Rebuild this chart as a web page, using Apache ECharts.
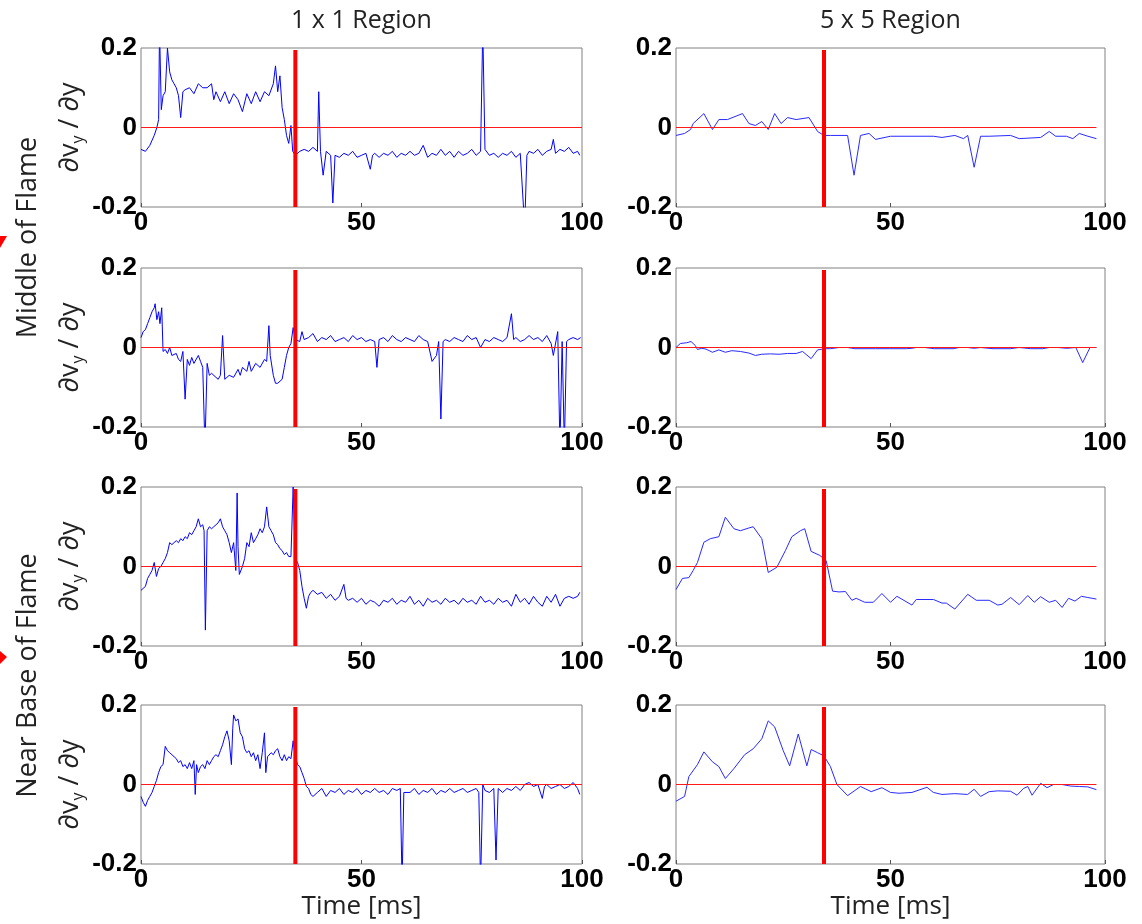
<!DOCTYPE html>
<html><head><meta charset="utf-8">
<script src="https://cdn.jsdelivr.net/npm/echarts@6/dist/echarts.min.js"></script>
<style>html,body{margin:0;padding:0;background:#fff}#c{width:1142px;height:924px}</style>
</head><body><div id="c"></div>
<script>
// ---- text & ticks ----
const COLUMN_TITLES = ['1 x 1 Region', '5 x 5 Region'];
const ROW_LABELS = ['Middle of Flame', 'Near Base of Flame'];
const X_NAME = 'Time [ms]';
const X_TICKS = [0, 50, 100];
const Y_TICKS = [-0.2, 0, 0.2];
// ---- reference lines ----
const ONSET_1x1 = 35, ONSET_5x5 = 34.5, ONSET_TOP = 0.195;
const ZERO_END_1x1 = 100, ZERO_END_5x5 = 98;

// ---- series: [time ms, dvy/dy] ----
const mid1_1x1 = [[0,-0.055],[1,-0.06],[2,-0.045],[3,-0.02],[3.6,0],[4,0.02],[4.2,0.25],[4.6,0.045],[5,0.08],[5.5,0.09],[6,0.2],[6.5,0.14],[7,0.12],[7.5,0.11],[8,0.1],[8.5,0.08],[9,0.025],[9.5,0.09],[10,0.095],[11,0.1],[12,0.085],[13,0.11],[14,0.1],[15,0.1],[16,0.11],[16.5,0.07],[17,0.09],[18,0.065],[19,0.09],[20,0.06],[21,0.085],[22,0.07],[23,0.04],[24,0.085],[25,0.06],[26,0.09],[27,0.065],[28,0.09],[29,0.08],[30,0.11],[30.5,0.155],[31,0.09],[31.5,0.13],[32,0.05],[32.5,0.02],[33,-0.02],[33.5,-0.04],[34,0.005],[34.4,-0.06],[35,-0.07],[36,-0.06],[37,-0.055],[38,-0.06],[39,-0.05],[40,-0.06],[40.3,0.09],[40.7,-0.06],[41.3,-0.12],[42,-0.06],[43,-0.07],[43.5,-0.19],[44,-0.07],[45,-0.075],[46,-0.065],[47,-0.07],[48,-0.06],[49,-0.075],[50,-0.07],[51,-0.065],[52,-0.105],[52.5,-0.07],[53,-0.065],[54,-0.075],[55,-0.065],[56,-0.07],[57,-0.06],[58,-0.075],[59,-0.065],[60,-0.07],[61,-0.06],[62,-0.07],[63,-0.065],[64,-0.045],[65,-0.075],[66,-0.065],[67,-0.07],[68,-0.055],[69,-0.07],[70,-0.06],[71,-0.075],[72,-0.06],[73,-0.07],[74,-0.065],[75,-0.055],[76,-0.07],[77,-0.06],[77.5,0.25],[78,-0.055],[79,-0.07],[80,-0.065],[81,-0.075],[82,-0.065],[83,-0.07],[84,-0.06],[85,-0.075],[86,-0.065],[87,-0.25],[87.5,-0.07],[88,-0.06],[89,-0.065],[90,-0.055],[91,-0.07],[92,-0.06],[93,-0.055],[93.5,-0.03],[94,-0.065],[95,-0.055],[96,-0.06],[97,-0.05],[98,-0.065],[99,-0.06],[99.5,-0.07]];
const mid1_5x5 = [[0,-0.02],[2,-0.015],[3.4,-0.005],[4,0.01],[6.5,0.035],[8.5,-0.005],[10,0.02],[12,0.02],[15.5,0.035],[17,0.01],[18.5,0.005],[20,0.015],[21.5,-0.005],[23,0.035],[24.5,0.01],[26,0.025],[28,0.02],[31,0.025],[33,-0.01],[34.5,-0.02],[36,-0.02],[40,-0.02],[41.5,-0.12],[43,-0.02],[45,-0.015],[46.5,-0.03],[50,-0.022],[60,-0.022],[62,-0.025],[65,-0.02],[67,-0.028],[68,-0.02],[69.5,-0.1],[71,-0.022],[73,-0.022],[78,-0.02],[80,-0.028],[85,-0.025],[87,-0.01],[88.5,-0.022],[91,-0.022],[92.5,-0.028],[94,-0.015],[96,-0.022],[98,-0.028]];
const mid2_1x1 = [[0,0.025],[0.5,0.04],[1,0.045],[1.5,0.06],[2,0.075],[2.5,0.09],[3,0.1],[3.2,0.11],[3.6,0.07],[4,0.09],[4.3,0.06],[4.7,0.1],[5,-0.01],[5.5,-0.005],[6,-0.015],[6.5,0],[7,-0.02],[8,-0.015],[8.5,-0.03],[9,-0.035],[9.5,-0.01],[10,-0.13],[10.5,-0.03],[11,-0.045],[11.5,-0.025],[12,-0.04],[13,-0.02],[13.5,-0.035],[14,-0.05],[14.5,-0.25],[15,-0.04],[15.5,-0.07],[16,-0.065],[17,-0.075],[17.5,-0.08],[18,-0.07],[18.5,0.03],[19,-0.08],[20,-0.07],[21,-0.075],[22,-0.055],[22.5,-0.07],[23,-0.05],[24,-0.06],[24.5,-0.035],[25,-0.06],[26,-0.04],[27,-0.05],[28,-0.03],[28.5,-0.035],[29,0.055],[29.3,-0.02],[30,-0.07],[30.5,-0.09],[31,-0.09],[32,-0.08],[32.5,-0.05],[33,-0.02],[33.5,0],[34,0.01],[34.5,0.05],[35,0.02],[36,0.015],[36.5,0.04],[37,0.02],[38,0.025],[39,0.035],[40,0.015],[41,0.025],[42,0.02],[43,0.03],[44,0.015],[45,0.02],[46,0.025],[47,0.015],[48,0.03],[49,0.02],[50,0.025],[51,0.015],[52,0.02],[53,0.015],[53.5,-0.05],[54,0.02],[55,0.025],[56,0.015],[57,0.03],[58,0.02],[59,0.015],[60,0.025],[61,0.02],[62,0.015],[63,0.03],[64,0.02],[65,0.015],[66,-0.035],[67,-0.02],[67.5,0.015],[68,-0.18],[68.5,0.015],[69,0.02],[70,0.015],[71,0.025],[72,0.02],[73,0.015],[74,0.03],[75,0.02],[76,0.025],[77,0],[78,0.02],[79,0.015],[80,0.025],[81,0.02],[82,0.015],[83,0.025],[84,0.085],[84.5,0.02],[85,0.025],[86,0.015],[87,0.02],[88,0.03],[89,0.02],[90,0.025],[91,0.015],[92,0.03],[93,0.01],[93.5,-0.02],[94.5,0.04],[95,-0.25],[95.5,0.015],[96,-0.25],[96.5,0.015],[97,0.02],[98,0.025],[99,0.02],[99.7,0.025]];
const mid2_5x5 = [[0,0],[1,0.01],[2.5,0.012],[3.5,0.015],[4.5,0.005],[5,-0.005],[6,-0.002],[7,-0.004],[8.5,-0.012],[10,-0.006],[11.5,-0.012],[13,-0.008],[15,-0.01],[17,-0.014],[18.5,-0.02],[20,-0.017],[22,-0.016],[24,-0.017],[26,-0.015],[28,-0.015],[29.5,-0.01],[31.5,-0.028],[33,-0.006],[34.8,-0.003],[36,-0.003],[38,0],[40,0],[41.7,-0.003],[45.7,-0.003],[46.5,-0.003],[49.7,-0.003],[50.1,-0.003],[53.7,-0.003],[55,-0.002],[56,0],[58,0],[60.2,-0.003],[64.6,-0.003],[66,0],[68,0],[69.5,-0.002],[71,0],[73.9,-0.003],[77.9,-0.003],[80,0],[82.7,-0.003],[85.5,-0.003],[87,0],[89,0],[91.1,-0.002],[93.2,0],[94.8,-0.038],[96.5,0],[98,0]];
const base1_1x1 = [[0,-0.06],[0.5,-0.055],[1,-0.05],[1.5,-0.03],[2,-0.02],[2.5,-0.01],[3,0.01],[3.5,-0.025],[4,-0.005],[4.5,0],[5,0.01],[5.5,0.02],[6,0.035],[6.5,0.06],[7,0.055],[7.5,0.06],[8,0.065],[8.5,0.06],[9,0.07],[9.5,0.065],[10,0.075],[10.5,0.07],[11,0.085],[11.5,0.08],[12,0.09],[12.5,0.1],[13,0.12],[13.5,0.1],[14,0.105],[14.3,0.09],[14.6,-0.16],[15,0.09],[15.5,0.1],[16,0.095],[16.5,0.1],[17,0.105],[17.5,0.11],[18,0.12],[18.5,0.1],[19,0.09],[19.5,0.08],[20,0.06],[20.5,0.035],[21,0.06],[21.5,-0.01],[21.8,0.185],[22,0.05],[22.3,-0.02],[22.7,-0.015],[23,0],[23.5,0.02],[24,0.06],[24.5,0.05],[25,0.085],[25.5,0.06],[26,0.07],[26.5,0.08],[27,0.095],[27.5,0.085],[28,0.1],[28.5,0.15],[29,0.1],[29.5,0.09],[30,0.08],[30.5,0.06],[31,0.055],[31.5,0.045],[32,0.04],[32.5,0.03],[33,0.035],[33.5,0.025],[34,0.025],[34.5,0.2],[35,0.02],[35.5,0.01],[36,-0.01],[36.5,-0.05],[37,-0.08],[37.5,-0.105],[38,-0.075],[38.5,-0.065],[39,-0.06],[40,-0.07],[41,-0.065],[42,-0.08],[43,-0.07],[44,-0.085],[45,-0.075],[46,-0.045],[46.5,-0.08],[47,-0.085],[48,-0.08],[49,-0.09],[50,-0.08],[51,-0.095],[52,-0.085],[53,-0.09],[54,-0.1],[55,-0.085],[56,-0.09],[57,-0.08],[58,-0.095],[59,-0.085],[60,-0.09],[61,-0.075],[62,-0.095],[63,-0.085],[64,-0.1],[65,-0.08],[66,-0.09],[67,-0.085],[68,-0.095],[69,-0.08],[70,-0.09],[71,-0.085],[72,-0.095],[73,-0.08],[74,-0.09],[75,-0.085],[76,-0.095],[77,-0.075],[78,-0.09],[79,-0.085],[80,-0.095],[81,-0.08],[82,-0.09],[83,-0.085],[84,-0.1],[85,-0.07],[86,-0.09],[87,-0.08],[88,-0.095],[89,-0.075],[90,-0.09],[91,-0.1],[92,-0.075],[93,-0.09],[94,-0.07],[95,-0.1],[96,-0.08],[97,-0.075],[98,-0.08],[99,-0.075],[99.5,-0.065]];
const base1_5x5 = [[0,-0.058],[1.5,-0.03],[3,-0.028],[4,-0.01],[5,0.01],[6.5,0.061],[8,0.07],[10,0.075],[11.5,0.124],[13.5,0.095],[15,0.09],[17,0.097],[18,0.1],[20,0.07],[21.5,-0.015],[23.5,-0.002],[25.5,0.04],[27,0.075],[29,0.09],[30,0.095],[31.5,0.038],[33.5,0.028],[35,0.015],[36.5,-0.062],[38,-0.064],[39.5,-0.063],[41,-0.085],[42,-0.08],[44,-0.09],[46,-0.09],[48,-0.068],[50,-0.09],[51.5,-0.075],[55,-0.097],[56,-0.083],[60,-0.083],[62,-0.092],[63,-0.092],[65,-0.107],[68,-0.07],[70,-0.085],[73,-0.085],[75,-0.097],[76,-0.095],[78,-0.078],[80,-0.096],[82,-0.073],[83.5,-0.09],[85,-0.076],[87,-0.09],[88.5,-0.085],[90,-0.103],[91.5,-0.08],[93,-0.087],[94.5,-0.075],[96,-0.078],[98,-0.082]];
const base2_1x1 = [[0,-0.03],[0.5,-0.045],[1,-0.055],[1.5,-0.04],[2,-0.03],[2.5,-0.02],[3,-0.005],[3.5,0.01],[4,0.03],[4.5,0.045],[5,0.05],[5.5,0.096],[6,0.085],[6.5,0.08],[7,0.075],[7.5,0.07],[8,0.065],[8.5,0.055],[9,0.06],[9.5,0.045],[10,0.05],[10.5,0.04],[11,0.055],[11.5,0.04],[12,0.06],[12.3,-0.025],[12.6,0.05],[13,0.03],[13.5,0.045],[14,0.05],[14.5,0.04],[15,0.06],[15.5,0.05],[16,0.06],[16.5,0.07],[17,0.075],[17.5,0.07],[18,0.085],[18.5,0.1],[19,0.12],[19.5,0.135],[20,0.11],[20.5,0.05],[20.8,0.14],[21,0.175],[21.5,0.16],[22,0.165],[22.5,0.13],[23,0.12],[23.5,0.09],[24,0.08],[24.5,0.085],[25,0.07],[25.5,0.08],[26,0.06],[26.5,0.075],[27,0.04],[27.5,0.08],[28,0.13],[28.3,0.03],[28.7,0.07],[29,0.065],[29.5,0.08],[30,0.075],[30.5,0.085],[31,0.09],[31.5,0.07],[32,0.06],[32.5,0.075],[33,0.06],[33.5,0.07],[34,0.065],[34.5,0.11],[35,0.07],[35.5,0.05],[36,0.045],[36.5,0.03],[37,0.015],[37.5,-0.005],[38,-0.01],[38.5,-0.025],[39,-0.03],[40,-0.02],[41,-0.01],[42,-0.03],[43,-0.015],[44,-0.02],[45,-0.01],[46,-0.025],[47,-0.015],[48,-0.02],[49,-0.01],[50,-0.025],[51,-0.015],[52,-0.02],[53,-0.01],[54,-0.02],[55,-0.015],[56,-0.025],[57,-0.01],[58,-0.015],[58.8,-0.01],[59.2,-0.25],[59.6,-0.02],[60,-0.015],[61,-0.02],[62,-0.01],[63,-0.025],[64,-0.015],[65,-0.02],[66,-0.01],[67,-0.025],[68,-0.015],[69,-0.02],[70,-0.01],[71,-0.02],[72,-0.015],[73,-0.01],[74,-0.02],[75,-0.015],[76,-0.01],[76.6,-0.02],[77,-0.25],[77.5,0],[78,-0.015],[79,-0.02],[80,-0.01],[80.5,-0.19],[81,-0.01],[82,-0.02],[83,-0.01],[84,-0.015],[85,-0.005],[86,-0.015],[87,0],[88,0.005],[89,-0.005],[90,0],[91,-0.035],[91.5,-0.005],[92,0],[93,-0.01],[94,-0.005],[95,0],[96,-0.01],[97,-0.005],[98,0.005],[99,-0.01],[99.5,-0.025]];
const base2_5x5 = [[0,-0.042],[2,-0.03],[3,0.02],[5,0.05],[6.5,0.082],[8.5,0.057],[10,0.045],[11.5,0.015],[13.5,0.04],[16,0.075],[18,0.09],[20,0.115],[21.5,0.16],[23,0.145],[25,0.085],[26.5,0.047],[28.5,0.127],[30.5,0.047],[31.5,0.088],[33,0.08],[34.5,0.072],[36,0.045],[37.5,0],[40,-0.028],[43,-0.005],[45.5,-0.018],[48,-0.008],[50,-0.02],[52,-0.022],[55,-0.02],[58.5,-0.007],[60,-0.02],[62,-0.025],[65,-0.023],[68,-0.025],[69.5,-0.012],[71,-0.03],[73,-0.018],[75,-0.016],[78,-0.017],[79.5,-0.027],[81,-0.01],[82,-0.005],[83,-0.027],[85,0.003],[86.5,-0.008],[88,0],[90,0],[92,-0.004],[94,-0.005],[96,-0.006],[98,-0.013]];

const panels = [
  {data: mid1_1x1, row: 0, col: 0}, {data: mid1_5x5, row: 0, col: 1},
  {data: mid2_1x1, row: 1, col: 0}, {data: mid2_5x5, row: 1, col: 1},
  {data: base1_1x1, row: 2, col: 0}, {data: base1_5x5, row: 2, col: 1},
  {data: base2_1x1, row: 3, col: 0}, {data: base2_5x5, row: 3, col: 1}
];

const LEFTS = [141, 676], WIDTHS = [441, 429];
const TOPS = [48, 268, 487, 705], HEIGHT = 159;
const TEXT_FONT = 'Open Sans';
const TICK_FONT = {fontFamily: 'Liberation Sans', fontWeight: 'bold', fontSize: 26, color: '#000'};

const option = {animation: false, backgroundColor: '#fff', grid: [], xAxis: [], yAxis: [], series: [], graphic: []};

panels.forEach((p, i) => {
  option.grid.push({left: LEFTS[p.col], top: TOPS[p.row], width: WIDTHS[p.col], height: HEIGHT,
    show: true, borderColor: '#808080', borderWidth: 1, backgroundColor: 'transparent', containLabel: false});
  option.xAxis.push({gridIndex: i, type: 'value', position: 'bottom',
    min: X_TICKS[0], max: X_TICKS[X_TICKS.length - 1], interval: X_TICKS[1] - X_TICKS[0],
    axisLine: {show: false, onZero: false},
    axisTick: {show: true, inside: true, length: 4, lineStyle: {color: '#555', width: 1}},
    splitLine: {show: false},
    axisLabel: Object.assign({margin: 3, showMinLabel: true, showMaxLabel: true}, TICK_FONT),
    name: p.row === 3 ? X_NAME : '', nameLocation: 'middle', nameGap: 28,
    nameTextStyle: {fontFamily: TEXT_FONT, fontSize: 26, fontWeight: 'normal', color: '#222'}});
  option.yAxis.push({gridIndex: i, type: 'value', position: 'left',
    min: Y_TICKS[0], max: Y_TICKS[Y_TICKS.length - 1], interval: Y_TICKS[1] - Y_TICKS[0],
    axisLine: {show: false, onZero: false},
    axisTick: {show: false},
    splitLine: {show: false},
    axisLabel: Object.assign({margin: 4, showMinLabel: true, showMaxLabel: true}, TICK_FONT),
    name: p.col === 0 ? '{a|∂v}{s|y}{a| / ∂y}' : '', nameLocation: 'middle', nameRotate: 90, nameGap: 55,
    nameTextStyle: {fontWeight: 'normal', rich: {
      a: {fontFamily: TEXT_FONT, fontSize: 27, fontWeight: 'normal', color: '#222', lineHeight: 32, verticalAlign: 'middle'},
      s: {fontFamily: TEXT_FONT, fontSize: 16, fontWeight: 'normal', color: '#222', lineHeight: 32, verticalAlign: 'bottom', padding: [11, 0, 0, 0]}
    }}});

  const onset = p.col === 0 ? ONSET_1x1 : ONSET_5x5;
  const zeroEnd = p.col === 0 ? ZERO_END_1x1 : ZERO_END_5x5;
  option.series.push({type: 'line', xAxisIndex: i, yAxisIndex: i, data: p.data, symbol: 'none', clip: true,
    itemStyle: {color: '#0000ff'},
    lineStyle: {color: p.col === 0 ? '#0000ff' : '#2a2aff', width: 1}, silent: true, z: 2});
  // zero reference line, drawn on its own layer above everything else
  option.series.push({type: 'line', xAxisIndex: i, yAxisIndex: i, data: [[X_TICKS[0], 0], [zeroEnd, 0]], symbol: 'none',
    itemStyle: {color: '#ff0000'}, lineStyle: {color: '#ff1a1a', width: 1.2}, silent: true, zlevel: 1, z: 5});
  option.series.push({type: 'line', xAxisIndex: i, yAxisIndex: i, data: [[onset, Y_TICKS[0]], [onset, ONSET_TOP]], symbol: 'none',
    itemStyle: {color: '#ff0000'},
    lineStyle: {color: '#ff0000', width: 4}, silent: true, zlevel: 1, z: 6});
});

COLUMN_TITLES.forEach((t, c) => {
  option.graphic.push({type: 'text', x: LEFTS[c] + WIDTHS[c] / 2, y: 21,
    style: {text: t, fontFamily: TEXT_FONT, fontSize: 25, fill: '#222', align: 'center', verticalAlign: 'middle'}});
});
[[0, 1], [2, 3]].forEach((rows, k) => {
  const cy = (TOPS[rows[0]] + TOPS[rows[1]] + HEIGHT) / 2;
  option.graphic.push({type: 'text', x: 28, y: cy, rotation: Math.PI / 2,
    style: {text: ROW_LABELS[k], fontFamily: TEXT_FONT, fontSize: 27, fill: '#222', align: 'center', verticalAlign: 'middle'}});
});
// small red arrow tips clipped at the left edge
option.graphic.push({type: 'polygon', shape: {points: [[0, 236], [7, 236], [0, 248]]}, style: {fill: '#ff0000'}});
option.graphic.push({type: 'polygon', shape: {points: [[0, 651], [7, 657], [0, 664]]}, style: {fill: '#ff0000'}});

const chart = echarts.init(document.getElementById('c'), null, {renderer: 'canvas'});
chart.setOption(option);
</script></body></html>
